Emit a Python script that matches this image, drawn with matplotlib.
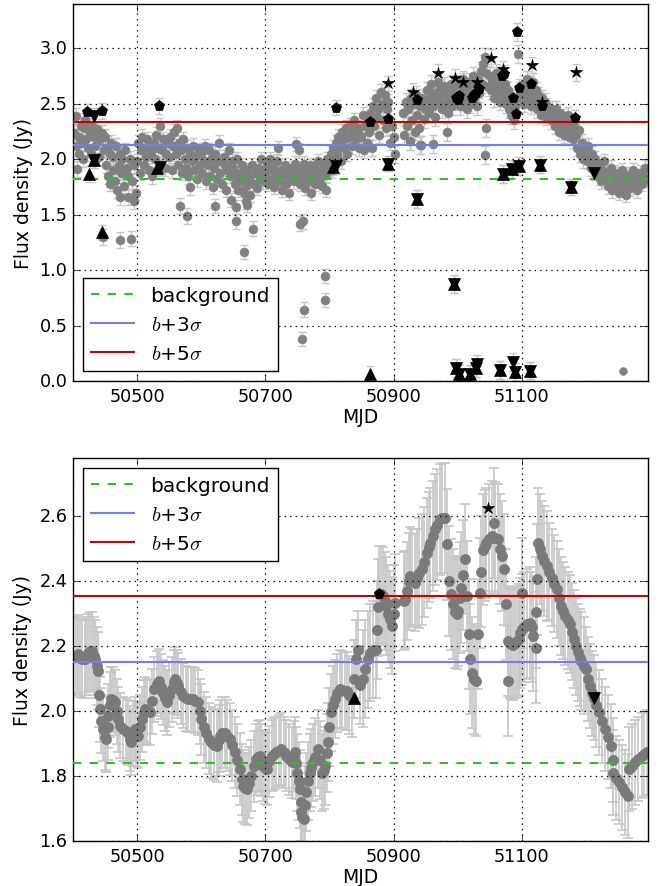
import matplotlib
matplotlib.use('Agg')
import matplotlib.pyplot as plt
import numpy as np
from bisect import bisect_right

# ---------------- data: top panel (all measurements) ----------------
top_mjd = [
 50402, 50404, 50405, 50407, 50409, 50410, 50412, 50413, 50415, 50417, 50418, 50420, 50422, 50424, 50426, 50428, 50430, 50433, 50435, 50437, 50440, 50442, 50445, 50448,
 50450, 50452, 50453, 50455, 50457, 50458, 50460, 50462, 50463, 50465, 50467, 50469, 50471, 50473, 50475, 50477, 50479, 50481, 50484, 50486, 50489, 50492, 50495, 50498,
 50500, 50502, 50504, 50506, 50508, 50510, 50512, 50514, 50516, 50518, 50520, 50522, 50524, 50526, 50528, 50530, 50532, 50535, 50537, 50539, 50541, 50543, 50545, 50548,
 50550, 50552, 50554, 50556, 50558, 50560, 50562, 50564, 50566, 50568, 50570, 50572, 50574, 50576, 50578, 50580, 50582, 50585, 50587, 50589, 50591, 50594, 50596, 50598,
 50600, 50602, 50604, 50606, 50608, 50610, 50612, 50614, 50616, 50618, 50620, 50622, 50624, 50626, 50628, 50630, 50632, 50635, 50637, 50639, 50641, 50643, 50645, 50648,
 50650, 50652, 50654, 50656, 50658, 50660, 50662, 50664, 50666, 50668, 50670, 50672, 50674, 50676, 50678, 50680, 50682, 50685, 50687, 50689, 50691, 50694, 50696, 50698,
 50700, 50702, 50704, 50706, 50708, 50710, 50712, 50714, 50716, 50718, 50720, 50722, 50724, 50726, 50728, 50730, 50732, 50735, 50737, 50739, 50741, 50744, 50746, 50748,
 50750, 50752, 50754, 50756, 50758, 50760, 50762, 50764, 50766, 50768, 50770, 50772, 50774, 50776, 50778, 50780, 50782, 50785, 50787, 50789, 50791, 50794, 50796, 50798,
 50800, 50802, 50804, 50806, 50808, 50810, 50812, 50814, 50816, 50818, 50820, 50822, 50824, 50826, 50828, 50830, 50832, 50835, 50837, 50839, 50841, 50844, 50846, 50848,
 50850, 50852, 50854, 50856, 50858, 50860, 50862, 50864, 50866, 50868, 50870, 50872, 50874, 50876, 50878, 50880, 50882, 50884, 50886, 50888, 50890, 50892, 50895, 50898,
 50900, 50903, 50915, 50917, 50919, 50921, 50923, 50925, 50927, 50929, 50931, 50933, 50935, 50937, 50939, 50941, 50943, 50945, 50947, 50949,
 50951, 50953, 50955, 50957, 50959, 50961, 50963, 50965, 50967, 50969, 50971, 50973, 50975, 50977, 50979, 50981, 50983, 50985, 50987, 50989, 50991, 50993, 50995, 50998,
 51000, 51002, 51004, 51006, 51008, 51010, 51012, 51014, 51016, 51018, 51020, 51022, 51024, 51026, 51028, 51030, 51032, 51034, 51036, 51038, 51040, 51042, 51044, 51047,
 51050, 51052, 51054, 51056, 51058, 51060, 51062, 51064, 51066, 51068, 51070, 51072, 51074, 51076, 51078, 51080, 51082, 51084, 51086, 51088, 51090, 51092, 51094, 51097,
 51100, 51102, 51104, 51106, 51108, 51110, 51112, 51114, 51116, 51118, 51120, 51122, 51124, 51126, 51128, 51130, 51132, 51134, 51136, 51138, 51140, 51142, 51145, 51148,
 51150, 51152, 51154, 51156, 51158, 51160, 51162, 51164, 51166, 51168, 51170, 51172, 51174, 51176, 51178, 51180, 51182, 51185, 51187, 51189, 51191, 51194, 51196, 51198,
 51200, 51202, 51204, 51206, 51208, 51210, 51212, 51214, 51216, 51218, 51220, 51222, 51224, 51226, 51228, 51230, 51232, 51235, 51237, 51239, 51241, 51244, 51246, 51248,
 51250, 51252, 51254, 51256, 51259, 51261, 51263, 51265, 51267, 51269, 51272, 51274, 51276, 51278, 51280, 51283, 51285, 51287, 51289, 51292, 51295,
]
top_flux = [
 2.24, 2.12, 2.39, 1.91, 2.20, 2.05, 2.30, 2.15, 2.00, 2.28, 2.35, 2.18, 2.32, 2.10, 2.25, 2.05, 2.30, 2.20, 2.12, 2.27, 2.02, 2.18, 2.24, 2.08,
 2.20, 1.95, 2.10, 1.85, 2.05, 1.78, 2.15, 1.90, 2.02, 1.80, 2.12, 1.72, 1.95, 2.05, 1.88, 2.00, 1.76, 2.08, 1.92, 1.85, 2.00, 1.80, 1.95, 1.70,
 1.98, 2.15, 1.88, 2.08, 2.20, 1.95, 2.10, 2.02, 2.18, 1.90, 2.12, 2.05, 1.85, 2.15, 2.00, 2.22, 2.10, 2.30, 1.95, 2.08, 2.18, 1.92, 2.05, 2.15,
 2.02, 2.20, 1.90, 2.12, 2.25, 2.05, 2.28, 1.95, 2.15, 2.08, 1.88, 2.18, 2.00, 1.92, 2.10, 1.85, 2.05, 1.98, 2.12, 1.90, 2.02, 1.82, 2.08, 1.95,
 2.05, 1.88, 1.98, 2.12, 1.80, 1.95, 2.08, 1.85, 2.00, 1.75, 1.92, 2.05, 1.82, 1.98, 2.15, 1.88, 1.78, 2.02, 1.95, 1.72, 1.90, 2.08, 1.85, 1.98,
 1.92, 1.78, 1.85, 2.00, 1.72, 1.88, 1.80, 1.95, 1.70, 1.84, 1.76, 1.90, 1.82, 1.68, 1.86, 1.95, 1.78, 1.88, 1.74, 1.92, 1.82, 2.00, 1.80, 1.90,
 1.85, 1.95, 1.78, 1.90, 2.00, 1.82, 1.92, 1.75, 1.88, 1.98, 2.10, 1.80, 1.90, 1.72, 1.86, 1.95, 1.78, 1.88, 1.70, 1.84, 1.92, 1.80, 1.96, 2.14,
 1.88, 2.08, 1.78, 1.92, 1.82, 1.96, 1.74, 1.86, 1.90, 1.80, 1.95, 1.70, 1.84, 1.92, 1.78, 1.88, 1.98, 1.82, 1.90, 1.76, 1.94, 1.86, 2.00, 1.90,
 1.95, 2.05, 1.90, 2.10, 2.00, 2.15, 2.05, 2.20, 2.12, 1.98, 2.25, 2.10, 2.18, 2.28, 2.05, 2.20, 2.30, 2.12, 2.25, 2.35, 2.18, 2.28, 2.10, 2.22,
 2.20, 2.40, 2.08, 2.30, 2.15, 2.35, 2.25, 2.42, 2.10, 2.48, 2.30, 2.55, 2.38, 2.45, 2.22, 2.61, 2.50, 2.35, 2.58, 2.28, 2.45, 2.52, 2.15, 2.30,
 2.20, 2.05, 2.42, 2.22, 2.52, 2.30, 2.45, 2.16, 2.55, 2.35, 2.50, 2.25, 2.58, 2.40, 2.28, 2.48, 2.13, 2.55, 2.36, 2.45,
 2.50, 2.62, 2.42, 2.55, 2.68, 2.48, 2.60, 2.38, 2.56, 2.70, 2.52, 2.64, 2.45, 2.58, 2.66, 2.50, 2.60, 2.42, 2.55, 2.68, 2.48, 2.62, 2.52, 2.58,
 2.55, 2.68, 2.48, 2.60, 2.72, 2.52, 2.65, 2.45, 2.58, 2.70, 2.50, 2.62, 2.75, 2.55, 2.66, 2.48, 2.72, 2.60, 2.80, 2.68, 2.86, 2.92, 2.78, 2.65,
 2.75, 2.62, 2.70, 2.55, 2.68, 2.78, 2.60, 2.72, 2.52, 2.65, 2.75, 2.58, 2.68, 2.50, 2.62, 2.45, 2.55, 2.40, 2.50, 2.35, 2.48, 2.55, 2.95, 2.62,
 2.58, 2.68, 2.50, 2.62, 2.72, 2.55, 2.65, 2.48, 2.60, 2.70, 2.52, 2.62, 2.45, 2.58, 2.50, 2.40, 2.55, 2.45, 2.52, 2.38, 2.48, 2.42, 2.35, 2.45,
 2.40, 2.30, 2.45, 2.35, 2.25, 2.42, 2.32, 2.38, 2.22, 2.35, 2.28, 2.40, 2.20, 2.32, 2.25, 2.18, 2.30, 2.22, 2.10, 2.26, 2.05, 2.15, 2.00, 2.12,
 2.08, 1.98, 2.12, 2.02, 1.92, 2.05, 1.95, 2.00, 1.88, 1.96, 1.84, 1.92, 1.80, 1.90, 1.98, 1.82, 1.88, 1.76, 1.85, 1.92, 1.72, 1.82, 1.88, 1.78,
 1.86, 1.70, 1.80, 1.90, 1.75, 1.84, 1.68, 1.78, 1.86, 1.74, 1.82, 1.90, 1.76, 1.84, 1.72, 1.80, 1.88, 1.78, 1.85, 1.92, 1.82,
]
# isolated low points of the top panel
out_mjd = [50447, 50473, 50486, 50495, 50473, 50490, 50567, 50578, 50583, 50621, 50647, 50654, 50654, 50666,
           50671, 50670, 50681, 50754, 50759, 50794, 50757, 50761, 50793, 50793, 50962, 50984, 50926, 50942,
           51042, 51045]
out_flux = [1.30, 1.655, 1.655, 1.625, 1.27, 1.285, 1.58, 1.49, 1.75, 1.58, 1.63, 1.57, 1.44, 1.165,
            1.585, 1.62, 1.375, 1.42, 1.44, 1.72, 0.378, 0.643, 0.949, 0.733, 2.135, 2.246, 2.16, 2.13,
            2.04, 2.285]
lone_mjd = [51258]
lone_flux = [0.093]
# error level by time segment (segment starts)
err_seg_start = [50400, 50500, 50600, 50700, 50800, 50900, 51000, 51100, 51200]
err_seg_level = [0.07, 0.07, 0.065, 0.065, 0.07, 0.08, 0.08, 0.075, 0.07]

# flagged events (black symbols)
pent_mjd = [50422, 50446, 50534, 50810, 50864, 50892, 50936, 50998, 51000, 51002, 51022, 51025, 51028, 51034,
            51069, 51073, 51086, 51091, 51096, 51093, 51115, 51131, 51183]
pent_flux = [2.43, 2.435, 2.48, 2.465, 2.34, 2.365, 2.53, 2.55, 2.53, 2.57, 2.55, 2.58, 2.60, 2.635,
             2.75, 2.77, 2.55, 2.41, 2.645, 3.15, 2.675, 2.48, 2.37]
star_mjd = [50891, 50931, 50970, 50996, 51009, 51030, 51052, 51071, 51116, 51131, 51185]
star_flux = [2.685, 2.61, 2.78, 2.73, 2.70, 2.70, 2.915, 2.81, 2.85, 2.52, 2.785]
up_mjd = [50433, 50531, 50806, 50891, 50936, 50994, 50998, 51002, 51020, 51029, 51066, 51071, 51085, 51090,
          51095, 51113, 51128, 51177, 50425, 50446, 50863]
up_flux = [1.99, 1.92, 1.93, 1.96, 1.64, 0.874, 0.12, 0.063, 0.063, 0.12, 0.099, 1.865, 1.91, 0.078,
           1.94, 0.093, 1.95, 1.75, 1.865, 1.34, 0.063]
down_mjd = [50433, 50536, 50810, 50891, 50936, 50994, 50998, 51002, 51020, 51029, 51066, 51071, 51085, 51090,
            51095, 51113, 51128, 51177, 50432, 51212, 51087, 51031]
down_flux = [1.99, 1.93, 1.94, 1.96, 1.64, 0.874, 0.12, 0.063, 0.063, 0.12, 0.099, 1.865, 1.91, 0.078,
             1.94, 0.093, 1.95, 1.75, 2.39, 1.88, 0.17, 0.15]

top_levels = [1.82, 2.13, 2.335]    # background, b+3sigma, b+5sigma

# ---------------- data: bottom panel (smoothed light curve) ----------------
bot_mjd = [
 50405, 50408, 50411, 50414, 50418, 50421, 50424, 50427, 50429, 50432, 50434, 50437, 50439, 50441, 50442, 50444,
 50447, 50450, 50452, 50454, 50455, 50458, 50460, 50463, 50465, 50468, 50470, 50474, 50478, 50482, 50486, 50489,
 50491, 50494, 50496, 50499, 50501, 50504, 50507, 50510, 50512, 50516, 50520, 50523, 50527, 50531, 50534, 50537,
 50541, 50544, 50546, 50550, 50554, 50557, 50559, 50562, 50564, 50568, 50572, 50576, 50580, 50584, 50587, 50591,
 50595, 50598, 50600, 50604, 50608, 50612, 50616, 50620, 50624, 50627, 50629, 50633, 50637, 50641, 50645, 50648,
 50652, 50656, 50660, 50663, 50665, 50668, 50671, 50674, 50678, 50682, 50686, 50689, 50691, 50694, 50697, 50700,
 50702, 50706, 50710, 50714, 50717, 50721, 50725, 50729, 50733, 50737, 50741, 50744, 50746, 50748, 50750, 50752,
 50754, 50755, 50756, 50758, 50760, 50762, 50764, 50767, 50769, 50772, 50775, 50778, 50782, 50785, 50788, 50791,
 50793, 50796, 50798, 50800, 50803, 50806, 50809, 50812, 50816, 50820, 50824, 50827, 50831, 50835, 50839, 50842,
 50845, 50848, 50852, 50856, 50860, 50864, 50868, 50872, 50874, 50876, 50877, 50880, 50884, 50887, 50889, 50892,
 50894, 50897, 50900, 50902, 50916, 50918, 50921, 50924, 50926, 50929, 50933, 50936, 50940, 50944, 50948, 50952,
 50955, 50957, 50961, 50965, 50968, 50972, 50976, 50980, 50983, 50987, 50990, 50993, 50996, 50999, 51001, 51004,
 51006, 51009, 51012, 51014, 51017, 51020, 51022, 51025, 51028, 51032, 51035, 51037, 51039, 51042, 51045, 51049,
 51053, 51056, 51059, 51063, 51066, 51069, 51073, 51075, 51078, 51079, 51082, 51084, 51087, 51090, 51093, 51095,
 51098, 51100, 51101, 51104, 51108, 51113, 51116, 51118, 51122, 51123, 51124, 51126, 51128, 51131, 51135, 51139,
 51143, 51147, 51151, 51155, 51158, 51161, 51165, 51168, 51172, 51175, 51179, 51182, 51185, 51188, 51191, 51193,
 51197, 51201, 51204, 51207, 51210, 51212, 51216, 51220, 51225, 51230, 51235, 51240, 51242, 51243, 51247, 51251,
 51256, 51261, 51266, 51267, 51272, 51277, 51282, 51287, 51291, 51295,
]
bot_flux = [
 2.170, 2.175, 2.165, 2.160, 2.160, 2.170, 2.180, 2.186, 2.186, 2.170, 2.160, 2.140, 2.124, 2.050, 2.006, 1.970,
 1.945, 1.920, 1.914, 1.950, 1.985, 2.020, 2.037, 2.035, 2.027, 2.000, 1.975, 1.955, 1.945, 1.940, 1.934, 1.915,
 1.904, 1.930, 1.945, 1.930, 1.924, 1.950, 1.975, 1.995, 2.006, 2.000, 1.996, 2.030, 2.068, 2.085, 2.093, 2.075,
 2.057, 2.040, 2.027, 2.050, 2.068, 2.090, 2.098, 2.088, 2.078, 2.060, 2.047, 2.040, 2.037, 2.037, 2.037, 2.032,
 2.027, 2.000, 1.975, 1.950, 1.934, 1.915, 1.904, 1.897, 1.893, 1.910, 1.924, 1.934, 1.934, 1.925, 1.914, 1.895,
 1.873, 1.850, 1.822, 1.790, 1.770, 1.762, 1.760, 1.780, 1.801, 1.830, 1.852, 1.860, 1.863, 1.850, 1.832, 1.825,
 1.822, 1.845, 1.863, 1.868, 1.873, 1.878, 1.883, 1.873, 1.863, 1.852, 1.842, 1.860, 1.873, 1.840, 1.811, 1.785,
 1.760, 1.720, 1.688, 1.675, 1.668, 1.710, 1.750, 1.785, 1.811, 1.825, 1.842, 1.860, 1.883, 1.850, 1.811, 1.820,
 1.832, 1.870, 1.904, 1.950, 1.996, 2.020, 2.037, 2.055, 2.068, 2.065, 2.063, 2.063, 2.050, 2.040, 2.100, 2.160,
 2.190, 2.080, 2.100, 2.130, 2.160, 2.180, 2.190, 2.190, 2.250, 2.320, 2.360, 2.360, 2.355, 2.340, 2.324, 2.300,
 2.283, 2.263, 2.300, 2.334, 2.340, 2.345, 2.370, 2.400, 2.416, 2.410, 2.396, 2.410, 2.425, 2.437, 2.460, 2.488,
 2.505, 2.519, 2.540, 2.560, 2.575, 2.591, 2.595, 2.596, 2.514, 2.401, 2.360, 2.330, 2.304, 2.300, 2.309, 2.350,
 2.381, 2.420, 2.468, 2.355, 2.237, 2.160, 2.119, 2.100, 2.093, 2.237, 2.365, 2.430, 2.498, 2.510, 2.519, 2.530,
 2.540, 2.580, 2.535, 2.529, 2.500, 2.478, 2.437, 2.329, 2.093, 2.216, 2.210, 2.206, 2.205, 2.211, 2.215, 2.221,
 2.240, 2.252, 2.365, 2.260, 2.268, 2.273, 2.260, 2.232, 2.196, 2.304, 2.406, 2.519, 2.500, 2.478, 2.462, 2.447,
 2.430, 2.411, 2.393, 2.375, 2.350, 2.324, 2.310, 2.293, 2.280, 2.268, 2.245, 2.222, 2.200, 2.181, 2.165, 2.155,
 2.140, 2.129, 2.100, 2.078, 2.055, 2.042, 2.020, 1.996, 1.970, 1.945, 1.920, 1.893, 1.850, 1.811, 1.795, 1.781,
 1.765, 1.750, 1.739, 1.822, 1.830, 1.842, 1.853, 1.863, 1.868, 1.873,
]
bot_err_seg_start = [50400, 50440, 50600, 50750, 50850, 50940, 51140, 51200]
bot_err_seg_level = [0.12, 0.10, 0.11, 0.12, 0.15, 0.17, 0.15, 0.13]

bot_pent_mjd, bot_pent_flux = [50878], [2.362]
bot_star_mjd, bot_star_flux = [51048], [2.627]
bot_up_mjd, bot_up_flux = [50838], [2.040]
bot_down_mjd, bot_down_flux = [51212], [2.040]

bot_levels = [1.84, 2.15, 2.356]

x_range = [50400, 51297]
x_ticks = [50500, 50700, 50900, 51100]
top_yticks = [0.0, 0.5, 1.0, 1.5, 2.0, 2.5, 3.0]
bot_yticks = [1.6, 1.8, 2.0, 2.2, 2.4, 2.6]
level_labels = ['background', r'$b$+3$\sigma$', r'$b$+5$\sigma$']

# ---------------- style ----------------
plt.style.use('classic')
plt.rcParams.update({
    'figure.facecolor': 'white', 'savefig.facecolor': 'white',
    'font.family': ['DejaVu Sans'], 'mathtext.fontset': 'cm',
    'xtick.labelsize': 12.7, 'ytick.labelsize': 12.7,
    'axes.labelsize': 13.5,
})

GREY = '#808080'
LGREY = '#c6c6c6'
level_styles = [dict(color='#33bb33', ls='--', lw=1.5),
                dict(color='#7777ff', ls='-', lw=1.5),
                dict(color='#cc0000', ls='-', lw=1.5)]


def seg_errors(mjd, starts, levels):
    return [levels[bisect_right(starts, m) - 1] for m in mjd]


def style_axes(ax, yticks, ylim):
    ax.set_xlim(*x_range)
    ax.set_ylim(*ylim)
    ax.set_xticks(x_ticks)
    ax.set_yticks(yticks)
    ax.set_yticklabels([f'{v:.1f}' for v in yticks])
    ax.grid(True, ls=':', color='k', lw=0.9)
    ax.tick_params(direction='in', length=5, top=True, right=True)
    ax.set_xlabel('MJD', labelpad=2)
    ax.set_ylabel('Flux density (Jy)')


def draw_levels(ax, levels, loc):
    handles = []
    for lev, lab, st in zip(levels, level_labels, level_styles):
        h = ax.axhline(lev, label=lab, zorder=3, **st)
        handles.append(h)
    leg = ax.legend(handles=handles, loc=loc, fontsize=14.5, handlelength=2.15,
                    handletextpad=0.8, borderpad=0.4, labelspacing=0.5,
                    borderaxespad=0.5, fancybox=False, numpoints=1)
    leg.get_frame().set_edgecolor('black')
    leg.get_frame().set_linewidth(1.0)
    leg.set_zorder(10)


fig = plt.figure(figsize=(6.6, 8.87), dpi=100)

# ---------------- top panel ----------------
ax1 = fig.add_axes([73 / 660, 1 - 382 / 887, 575 / 660, 377 / 887])
all_mjd = top_mjd + out_mjd
all_flux = top_flux + out_flux
all_err = seg_errors(all_mjd, err_seg_start, err_seg_level)
ax1.errorbar(all_mjd, all_flux, yerr=all_err, fmt='none', ecolor=LGREY, elinewidth=1.0,
             capsize=3, capthick=1.0, zorder=1)
ax1.plot(all_mjd, all_flux, 'o', color=GREY, mec=GREY, ms=6.3, zorder=2)
ax1.plot(lone_mjd, lone_flux, 'o', color=GREY, mec=GREY, ms=5.5, zorder=2)

flag_mjd = pent_mjd + star_mjd + up_mjd + down_mjd
flag_flux = pent_flux + star_flux + up_flux + down_flux
ax1.errorbar(flag_mjd, flag_flux, yerr=seg_errors(flag_mjd, err_seg_start, err_seg_level),
             fmt='none', ecolor=LGREY, elinewidth=1.0, capsize=3, capthick=1.0, zorder=1)
draw_levels(ax1, top_levels, 'lower left')
ax1.plot(pent_mjd, pent_flux, 'p', color='k', mec='k', ms=8, zorder=5)
ax1.plot(star_mjd, star_flux, '*', color='k', mec='k', ms=9, zorder=5)
ax1.plot(up_mjd, up_flux, '^', color='k', mec='k', ms=8, zorder=5)
ax1.plot(down_mjd, down_flux, 'v', color='k', mec='k', ms=8, zorder=5)
style_axes(ax1, top_yticks, (0.0, 3.4))

# ---------------- bottom panel ----------------
ax2 = fig.add_axes([73 / 660, 1 - 842 / 887, 575 / 660, 383 / 887])
bot_err = seg_errors(bot_mjd, bot_err_seg_start, bot_err_seg_level)
ax2.errorbar(bot_mjd, bot_flux, yerr=bot_err, fmt='none', ecolor=LGREY, elinewidth=1.2,
             capsize=3.5, capthick=1.2, zorder=1)
ax2.plot(bot_mjd, bot_flux, 'o', color='#7a7a7a', mec='#7a7a7a', ms=7.3, zorder=2)
draw_levels(ax2, bot_levels, 'upper left')
ax2.plot(bot_pent_mjd, bot_pent_flux, 'p', color='k', mec='k', ms=8, zorder=5)
ax2.plot(bot_star_mjd, bot_star_flux, '*', color='k', mec='k', ms=9, zorder=5)
ax2.plot(bot_up_mjd, bot_up_flux, '^', color='k', mec='k', ms=8, zorder=5)
ax2.plot(bot_down_mjd, bot_down_flux, 'v', color='k', mec='k', ms=8, zorder=5)
style_axes(ax2, bot_yticks, (1.6, 2.78))

fig.savefig('out.png', dpi=100)
